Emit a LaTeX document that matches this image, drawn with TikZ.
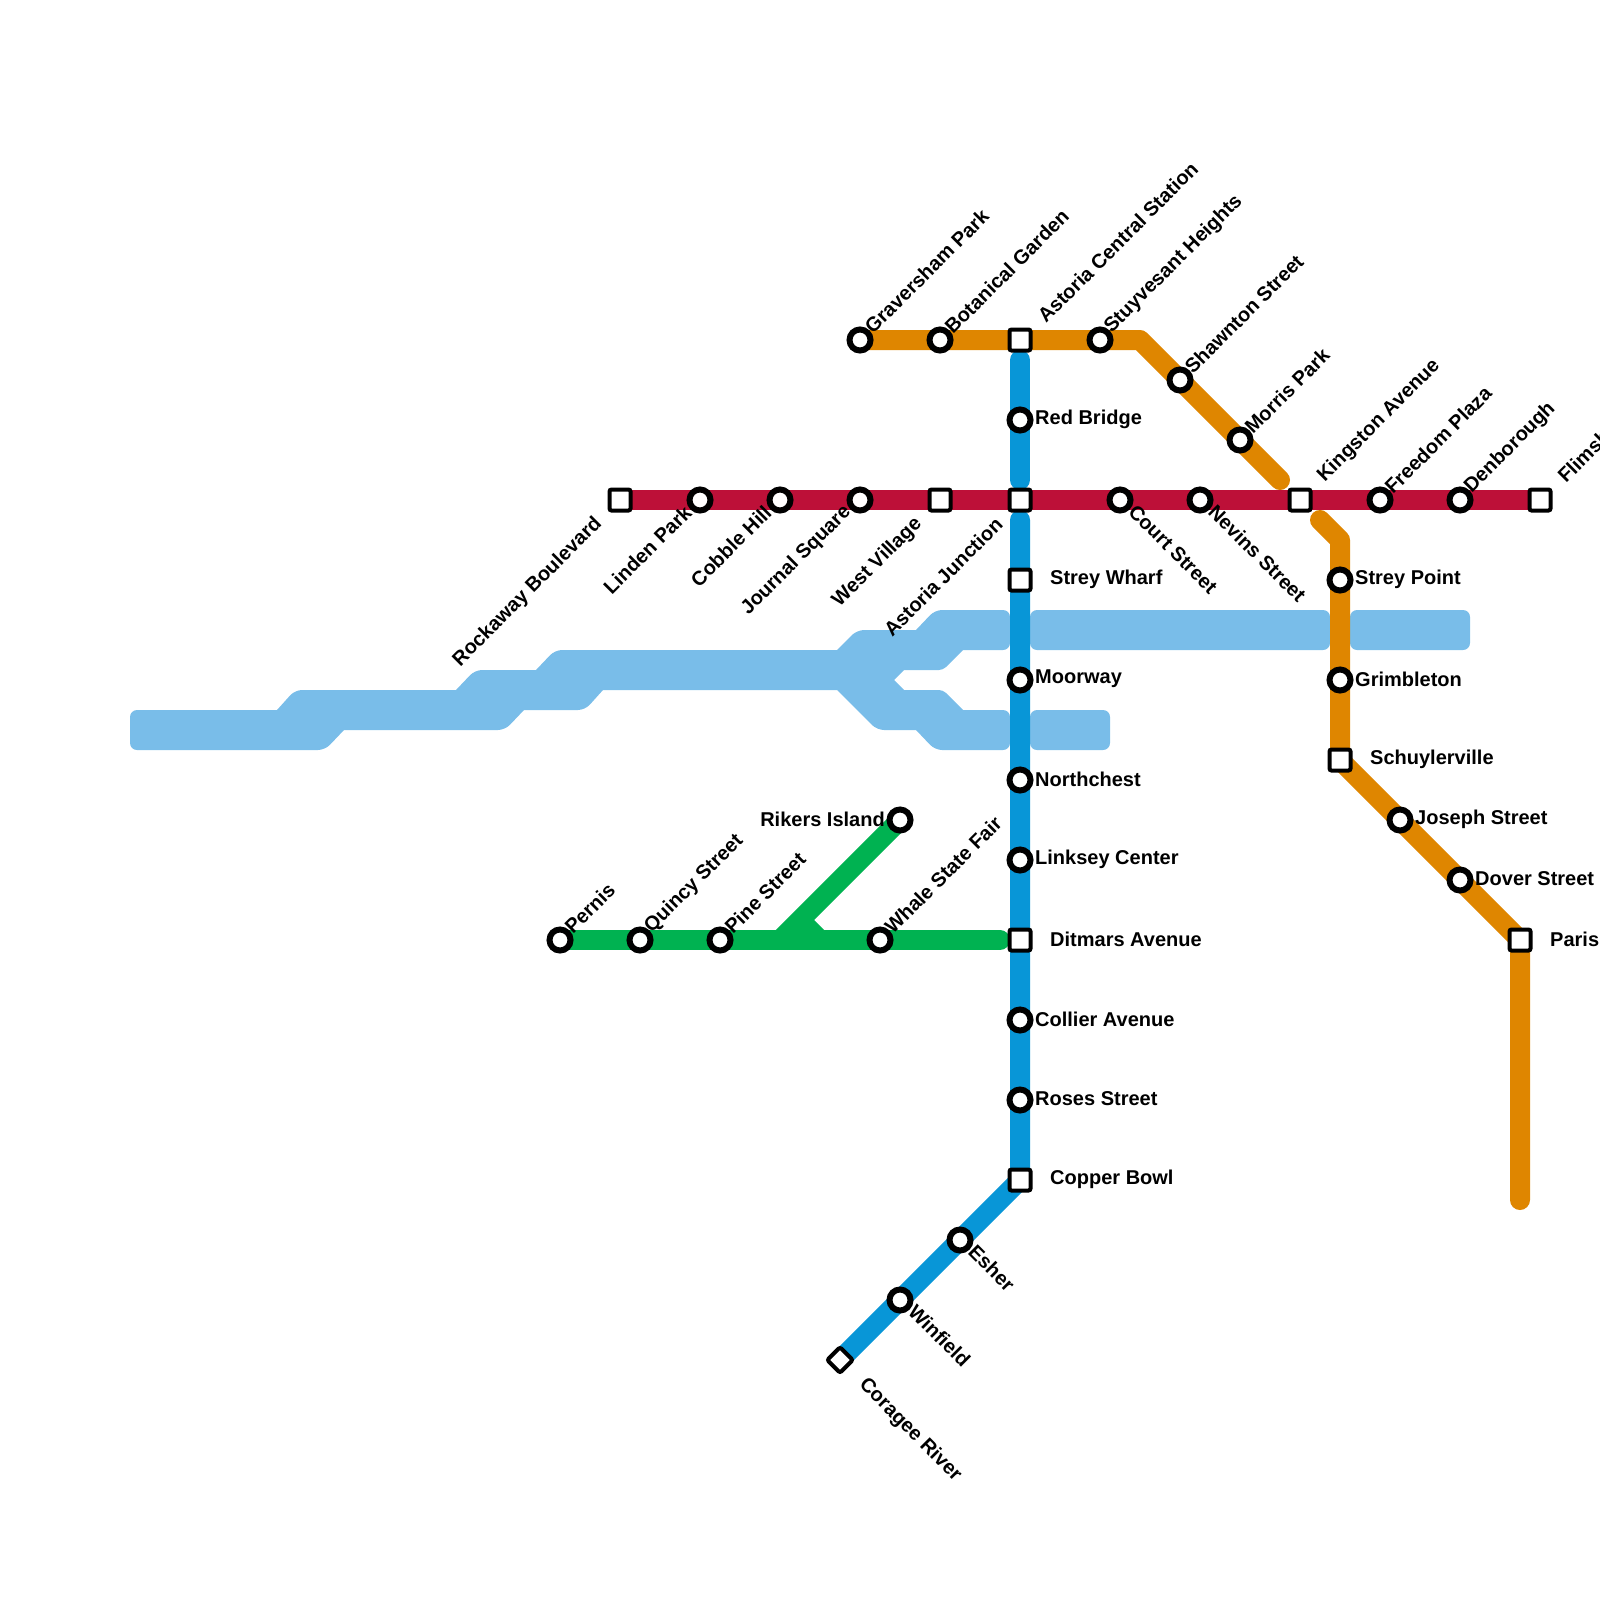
\documentclass[tikz,border=0pt]{standalone}
\usepackage{fontspec}
\setmainfont{Liberation Sans}
\usepackage{xcolor}
\usetikzlibrary{backgrounds}
\definecolor{corVermelha}{HTML}{BD1038}
\definecolor{corLaranja}{HTML}{DF8600}
\definecolor{corAzul}{HTML}{0896D7}
\definecolor{corVerde}{HTML}{00B251}
\definecolor{corCeleste}{HTML}{79BDE9}
\tikzset{
    estacao/.style={
        circle,
        draw=black,
        fill=white,
        line width=6pt,
        minimum size=21pt,
        inner sep=0pt
    },
    terminal/.style={
        rectangle,
        draw=black,
        fill=white,
        line width=4pt,
        rounded corners=2pt,
        minimum size=21pt,
        inner sep=0pt
    },
    losango/.style={terminal, minimum size=18pt, rotate=45},
    rotulo/.style={
        font=\fontsize{20}{24}\selectfont\bfseries,
        inner sep=0pt,
        text=black
    },
    rotuloDir/.style={rotulo, anchor=west, xshift=15pt, yshift=1pt},
    rotuloDirLonge/.style={rotulo, anchor=west, xshift=30pt, yshift=1pt},
    rotuloEsq/.style={rotulo, anchor=east, xshift=-15pt, yshift=1pt},
    rotuloNE/.style={rotulo, anchor=west, xshift=8pt, yshift=10pt, rotate=45},
    rotuloNELonge/.style={rotulo, anchor=west, xshift=21pt, yshift=21pt, rotate=45},
    rotuloSE/.style={rotulo, anchor=west, xshift=12pt, yshift=-8pt, rotate=-45},
    rotuloSELonge/.style={rotulo, anchor=west, xshift=22pt, yshift=-22pt, rotate=-45},
    rotuloSO/.style={rotulo, anchor=east, xshift=-12pt, yshift=-9pt, rotate=45},
    rotuloSOLonge/.style={rotulo, anchor=east, xshift=-21pt, yshift=-21pt, rotate=45},
    linha/.style={line width=20pt, line cap=round, line join=round},
    linhaVermelha/.style={line width=20pt, draw=corVermelha},
    linhaLaranja/.style={linha, draw=corLaranja},
    linhaAzul/.style={linha, draw=corAzul},
    linhaVerde/.style={linha, draw=corVerde},
    ramalVerde/.style={line width=20pt, draw=corVerde},
    faixa/.style={fill=corCeleste, rounded corners=7pt}
}

\begin{document}
\begin{tikzpicture}[x=1pt, y=-1pt]
    \useasboundingbox (0,0) rectangle (1600,1600);

    \node[terminal] (rockaway) at (620,500) {};
    \node[estacao] (linden) at (700,500) {};
    \node[estacao] (cobble) at (780,500) {};
    \node[estacao] (journal) at (860,500) {};
    \node[terminal] (westvillage) at (940,500) {};
    \node[terminal] (astoriajunction) at (1020,500) {};
    \node[estacao] (court) at (1120,500) {};
    \node[estacao] (nevins) at (1200,500) {};
    \node[terminal] (kingston) at (1300,500) {};
    \node[estacao] (freedom) at (1380,500) {};
    \node[estacao] (denborough) at (1460,500) {};
    \node[terminal] (flimsh) at (1540,500) {};

    \node[estacao] (graversham) at (860,340) {};
    \node[estacao] (botanical) at (940,340) {};
    \node[terminal] (astoriacentral) at (1020,340) {};
    \node[estacao] (stuyvesant) at (1100,340) {};
    \coordinate (curvaLaranja) at (1140,340);
    \node[estacao] (shawnton) at (1180,380) {};
    \node[estacao] (morris) at (1240,440) {};
    \coordinate (fimLaranja) at (1280,480);

    \coordinate (inicioLaranja) at (1320,520);
    \coordinate (dobraLaranja) at (1340,540);
    \node[estacao] (streypoint) at (1340,580) {};
    \node[estacao] (grimbleton) at (1340,680) {};
    \node[terminal] (schuylerville) at (1340,760) {};
    \node[estacao] (joseph) at (1400,820) {};
    \node[estacao] (dover) at (1460,880) {};
    \node[terminal] (paris) at (1520,940) {};
    \coordinate (pontaLaranja) at (1520,1200);

    \coordinate (topoAzul) at (1020,360);
    \node[estacao] (redbridge) at (1020,420) {};
    \coordinate (meioAzul) at (1020,480);
    \coordinate (inicioAzul) at (1020,520);
    \node[terminal] (streywharf) at (1020,580) {};
    \node[estacao] (moorway) at (1020,680) {};
    \node[estacao] (northchest) at (1020,780) {};
    \node[estacao] (linksey) at (1020,860) {};
    \node[terminal] (ditmars) at (1020,940) {};
    \node[estacao] (collier) at (1020,1020) {};
    \node[estacao] (roses) at (1020,1100) {};
    \node[terminal] (copper) at (1020,1180) {};
    \node[estacao] (esher) at (960,1240) {};
    \node[estacao] (winfield) at (900,1300) {};
    \node[losango] (coragee) at (840,1360) {};

    \node[estacao] (pernis) at (560,940) {};
    \node[estacao] (quincy) at (640,940) {};
    \node[estacao] (pine) at (720,940) {};
    \coordinate (juncaoVerde) at (780,940);
    \coordinate (dobraVerde) at (800,920);
    \coordinate (peVerde) at (820,940);
    \node[estacao] (whale) at (880,940) {};
    \coordinate (fimVerde) at (1000,940);
    \node[estacao] (rikers) at (900,820) {};

    \begin{scope}[on background layer]
        \fill[faixa] (130,730) -- (130,710) [sharp corners] -- (277,710) [rounded corners=7pt] -- (295,690)
            [sharp corners] -- (456,690) [rounded corners=7pt] -- (475,670)
            [sharp corners] -- (536,670) [rounded corners=7pt] -- (555,650)
            [sharp corners] -- (837,650) [rounded corners=7pt] -- (857,630)
            [sharp corners] -- (916,630) [rounded corners=7pt] -- (935,610) -- (1010,610) -- (1010,650)
            [sharp corners] -- (963,650) [rounded corners=4pt] -- (943,670)
            [sharp corners] -- (904,670) -- (894,680) -- (904,690) [rounded corners=4pt] -- (943,690)
            [sharp corners] -- (963,710) [rounded corners=7pt] -- (1010,710) -- (1010,750) -- (935,750)
            [sharp corners] -- (916,730) [rounded corners=7pt] -- (877,730)
            [sharp corners] -- (837,690) -- (603,690) [rounded corners=7pt] -- (585,710)
            [sharp corners] -- (524,710) [rounded corners=7pt] -- (505,730)
            [sharp corners] -- (344,730) [rounded corners=7pt] -- (325,750) -- (130,750) -- cycle;
        \fill[faixa] (1030,610) rectangle (1330,650);
        \fill[faixa] (1350,610) rectangle (1470,650);
        \fill[faixa] (1030,710) rectangle (1110,750);

        \draw[linhaVermelha] (rockaway.center) -- (linden.center) -- (cobble.center) -- (journal.center)
            -- (westvillage.center) -- (astoriajunction.center) -- (court.center) -- (nevins.center)
            -- (kingston.center) -- (freedom.center) -- (denborough.center) -- (flimsh.center);
        \draw[linhaLaranja] (graversham.center) -- (botanical.center) -- (astoriacentral.center)
            -- (stuyvesant.center) -- (curvaLaranja) -- (shawnton.center) -- (morris.center) -- (fimLaranja);
        \draw[linhaLaranja] (inicioLaranja) -- (dobraLaranja) -- (streypoint.center) -- (grimbleton.center)
            -- (schuylerville.center) -- (joseph.center) -- (dover.center) -- (paris.center) -- (pontaLaranja);
        \draw[linhaAzul] (topoAzul) -- (redbridge.center) -- (meioAzul);
        \draw[linhaAzul] (inicioAzul) -- (streywharf.center) -- (moorway.center) -- (northchest.center)
            -- (linksey.center) -- (ditmars.center) -- (collier.center) -- (roses.center) -- (copper.center)
            -- (esher.center) -- (winfield.center) -- (coragee.center);
        \draw[linhaVerde] (pernis.center) -- (quincy.center) -- (pine.center) -- (juncaoVerde) -- (peVerde)
            -- (whale.center) -- (fimVerde);
        \draw[ramalVerde] (rikers.center) -- (dobraVerde) -- (juncaoVerde);
        \draw[ramalVerde] (dobraVerde) -- (peVerde);
    \end{scope}

    \node[rotuloSOLonge] (rockawayRot) at (rockaway) {Rockaway Boulevard};
    \node[rotuloSO] (lindenRot) at (linden) {Linden Park};
    \node[rotuloSO] (cobbleRot) at (cobble) {Cobble Hill};
    \node[rotuloSO] (journalRot) at (journal) {Journal Square};
    \node[rotuloSOLonge] (westvillageRot) at (westvillage) {West Village};
    \node[rotuloSOLonge] (astoriajunctionRot) at (astoriajunction) {Astoria Junction};
    \node[rotuloSE] (courtRot) at (court) {Court Street};
    \node[rotuloSE] (nevinsRot) at (nevins) {Nevins Street};
    \node[rotuloNELonge] (kingstonRot) at (kingston) {Kingston Avenue};
    \node[rotuloNE] (freedomRot) at (freedom) {Freedom Plaza};
    \node[rotuloNE] (denboroughRot) at (denborough) {Denborough};
    \node[rotuloNELonge] (flimshRot) at (flimsh) {Flimsh};

    \node[rotuloNE] (gravershamRot) at (graversham) {Graversham Park};
    \node[rotuloNE] (botanicalRot) at (botanical) {Botanical Garden};
    \node[rotuloNELonge] (astoriacentralRot) at (astoriacentral) {Astoria Central Station};
    \node[rotuloNE] (stuyvesantRot) at (stuyvesant) {Stuyvesant Heights};
    \node[rotuloNE] (shawntonRot) at (shawnton) {Shawnton Street};
    \node[rotuloNE] (morrisRot) at (morris) {Morris Park};

    \node[rotuloDir] (streypointRot) at (streypoint) {Strey Point};
    \node[rotuloDir] (grimbletonRot) at (grimbleton) {Grimbleton};
    \node[rotuloDirLonge] (schuylervilleRot) at (schuylerville) {Schuylerville};
    \node[rotuloDir] (josephRot) at (joseph) {Joseph Street};
    \node[rotuloDir] (doverRot) at (dover) {Dover Street};
    \node[rotuloDirLonge] (parisRot) at (paris) {Paris};

    \node[rotuloDir] (redbridgeRot) at (redbridge) {Red Bridge};
    \node[rotuloDirLonge] (streywharfRot) at (streywharf) {Strey Wharf};
    \node[rotuloDir] (moorwayRot) at (moorway) {Moorway};
    \node[rotuloDir] (northchestRot) at (northchest) {Northchest};
    \node[rotuloDir] (linkseyRot) at (linksey) {Linksey Center};
    \node[rotuloDirLonge] (ditmarsRot) at (ditmars) {Ditmars Avenue};
    \node[rotuloDir] (collierRot) at (collier) {Collier Avenue};
    \node[rotuloDir] (rosesRot) at (roses) {Roses Street};
    \node[rotuloDirLonge] (copperRot) at (copper) {Copper Bowl};
    \node[rotuloSE] (esherRot) at (esher) {Esher};
    \node[rotuloSE] (winfieldRot) at (winfield) {Winfield};
    \node[rotuloSELonge] (corageeRot) at (coragee) {Coragee River};

    \node[rotuloNE] (pernisRot) at (pernis) {Pernis};
    \node[rotuloNE] (quincyRot) at (quincy) {Quincy Street};
    \node[rotuloNE] (pineRot) at (pine) {Pine Street};
    \node[rotuloNE] (whaleRot) at (whale) {Whale State Fair};
    \node[rotuloEsq] (rikersRot) at (rikers) {Rikers Island};
\end{tikzpicture}
\end{document}
